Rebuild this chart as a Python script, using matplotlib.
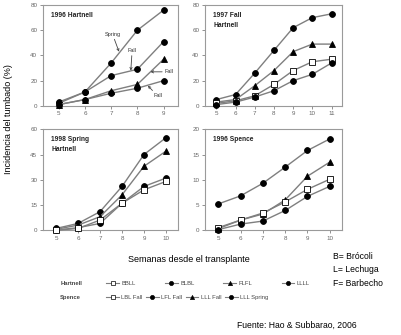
import numpy as np
import matplotlib
matplotlib.use("Agg")
import matplotlib.pyplot as plt
from matplotlib.lines import Line2D

plt.rcParams['font.family'] = ['Liberation Sans', 'DejaVu Sans']

# Datos (incidencia del tumbado, %)
sem_96h = [5, 6, 7, 8, 9]
h96_spring = [3, 11, 34, 60, 76]
h96_fall1 = [2, 11, 24, 29, 51]
h96_fall2 = [1, 5, 12, 17, 37]
h96_fall3 = [1, 5, 10, 14, 20]

sem_97h = [5, 6, 7, 8, 9, 10, 11]
h97_llll = [5, 9, 26, 44, 62, 70, 73]
h97_flfl = [3, 5, 16, 28, 43, 49, 49]
h97_bbll = [2, 4, 8, 17, 28, 35, 37]
h97_blbl = [1, 3, 7, 12, 20, 25, 34]

sem_98h = [5, 6, 7, 8, 9, 10]
h98_llll = [1, 4, 11, 26, 45, 55]
h98_flfl = [0.5, 3, 8, 21, 38, 47]
h98_blbl = [0, 1.5, 4, 16, 26, 31]
h98_bbll = [0, 1, 6, 16, 24, 29]

sem_96s = [5, 6, 7, 8, 9, 10]
s96_spring = [5.2, 6.8, 9.3, 12.5, 15.8, 18.1]
s96_lll = [0.3, 2.0, 3.2, 6.0, 10.7, 13.5]
s96_lbl = [0.5, 2.0, 3.4, 5.6, 8.1, 10.1]
s96_lfl = [0.1, 1.2, 1.8, 3.9, 6.7, 8.7]

line_col = '#7f7f7f'
mk_col = 'black'
tick_col = '#666666'


def serie(ax, x, y, marker):
    filled = marker != 's'
    ax.plot(x, y, color=line_col, lw=1.0, marker=marker, ms=4.2,
            mfc=mk_col if filled else 'white', mec=mk_col, mew=0.6,
            clip_on=False, zorder=3)


def estilo(ax, xs, ymax, yticks, titulo):
    ax.set_xlim(4.4, xs[-1] + 0.55)
    ax.set_ylim(0, ymax)
    ax.set_xticks(xs)
    ax.set_yticks(yticks)
    ax.tick_params(labelsize=4.5, colors=tick_col, length=2, width=0.5, pad=2)
    for s in ax.spines.values():
        s.set_color('#9a9a9a')
        s.set_linewidth(0.8)
    ax.text(0.06, 0.93, titulo, transform=ax.transAxes, fontsize=4.8,
            fontweight='bold', va='top', ha='left', color='#222222',
            linespacing=1.5)


fig = plt.figure(figsize=(4.01, 3.35), dpi=100)
ax1 = fig.add_axes([0.107, 0.684, 0.337, 0.301])
ax2 = fig.add_axes([0.511, 0.684, 0.342, 0.301])
ax3 = fig.add_axes([0.107, 0.313, 0.337, 0.301])
ax4 = fig.add_axes([0.511, 0.313, 0.342, 0.301])

# 1996 Hartnell
serie(ax1, sem_96h, h96_spring, 'o')
serie(ax1, sem_96h, h96_fall1, 'o')
serie(ax1, sem_96h, h96_fall2, '^')
serie(ax1, sem_96h, h96_fall3, 'o')
estilo(ax1, sem_96h, 80, [0, 20, 40, 60, 80], '1996 Hartnell')
ann = dict(fontsize=4, color='#333333')
arr = dict(arrowstyle='->', color='#444444', lw=0.6, shrinkA=0, shrinkB=0)
ax1.annotate('Spring', xy=(7.3, 43), xytext=(7.05, 55), ha='center', va='bottom',
             arrowprops=arr, **ann)
ax1.annotate('Fall', xy=(7.75, 28), xytext=(7.8, 42), ha='center', va='bottom',
             arrowprops=arr, **ann)
ax1.annotate('Fall', xy=(8.5, 27), xytext=(9.05, 27), ha='left', va='center',
             arrowprops=arr, **ann)
ax1.annotate('Fall', xy=(8.4, 16), xytext=(8.6, 8), ha='left', va='center',
             arrowprops=arr, **ann)

# 1997 Fall Hartnell
serie(ax2, sem_97h, h97_llll, 'o')
serie(ax2, sem_97h, h97_flfl, '^')
serie(ax2, sem_97h, h97_bbll, 's')
serie(ax2, sem_97h, h97_blbl, 'o')
estilo(ax2, sem_97h, 80, [0, 20, 40, 60, 80], '1997 Fall\nHartnell')

# 1998 Spring Hartnell
serie(ax3, sem_98h, h98_llll, 'o')
serie(ax3, sem_98h, h98_flfl, '^')
serie(ax3, sem_98h, h98_blbl, 'o')
serie(ax3, sem_98h, h98_bbll, 's')
estilo(ax3, sem_98h, 60, [0, 15, 30, 45, 60], '1998 Spring\nHartnell')

# 1996 Spence
serie(ax4, sem_96s, s96_spring, 'o')
serie(ax4, sem_96s, s96_lll, '^')
serie(ax4, sem_96s, s96_lbl, 's')
serie(ax4, sem_96s, s96_lfl, 'o')
estilo(ax4, sem_96s, 20, [0, 5, 10, 15, 20], '1996 Spence')

fig.text(0.02, 0.645, 'Incidencia del tumbado (%)', rotation=90,
         ha='center', va='center', fontsize=6.5)
fig.text(0.472, 0.225, 'Semanas desde el transplante', ha='center',
         va='center', fontsize=6.5)

# Leyendas
def h(marker):
    return Line2D([], [], color=line_col, lw=0.8, marker=marker, ms=3,
                  mfc='white' if marker == 's' else mk_col, mec=mk_col, mew=0.5)

hart_labels = ['BBLL', 'BLBL', 'FLFL', 'LLLL']
spence_labels = ['LBL Fall', 'LFL Fall', 'LLL Fall', 'LLL Spring']
marks = ['s', 'o', '^', 'o']

fig.text(0.15, 0.155, 'Hartnell', fontsize=4.2, fontweight='bold',
         color='#444444', va='center')
fig.text(0.15, 0.113, 'Spence', fontsize=4.2, fontweight='bold',
         color='#444444', va='center')
lg1 = fig.legend([h(m) for m in marks], hart_labels, loc='center left',
                 bbox_to_anchor=(0.265, 0.155), ncol=4, frameon=False,
                 fontsize=4.2, handlelength=2.2, handletextpad=0.4,
                 columnspacing=5.0, borderpad=0, borderaxespad=0)
lg2 = fig.legend([h(m) for m in marks], spence_labels, loc='center left',
                 bbox_to_anchor=(0.265, 0.113), ncol=4, frameon=False,
                 fontsize=4.2, handlelength=2.2, handletextpad=0.4,
                 columnspacing=0.6, borderpad=0, borderaxespad=0)
for lg in (lg1, lg2):
    for t in lg.get_texts():
        t.set_color('#444444')

fig.text(0.83, 0.235, 'B= Brócoli', fontsize=6.2, va='center')
fig.text(0.83, 0.195, 'L= Lechuga', fontsize=6.2, va='center')
fig.text(0.83, 0.155, 'F= Barbecho', fontsize=6.2, va='center')
fig.text(0.59, 0.03, 'Fuente: Hao & Subbarao, 2006', fontsize=6.2, va='center')

fig.savefig('out.png', dpi=100)
